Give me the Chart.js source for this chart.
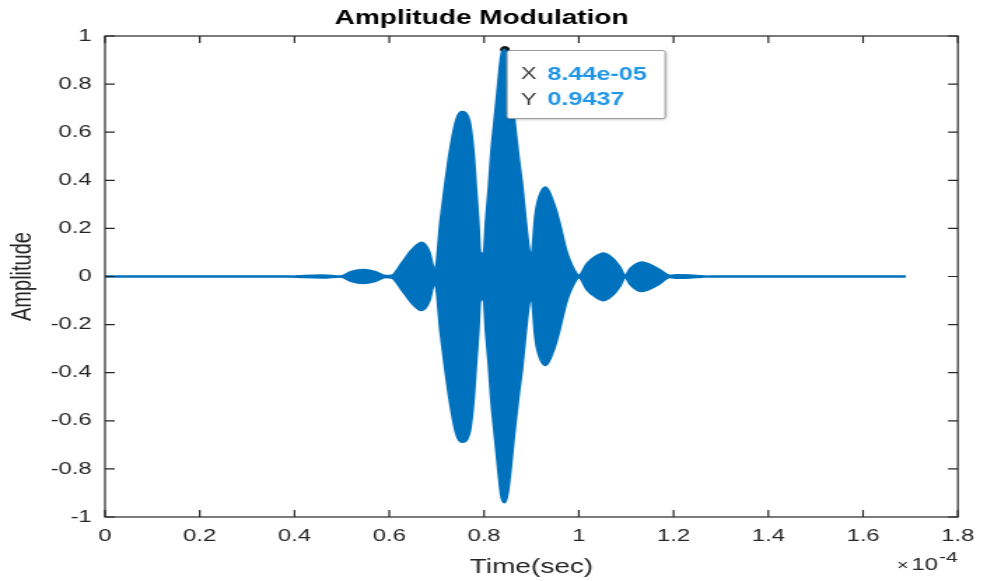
<!DOCTYPE html>
<html>
<head>
<meta charset="utf-8">
<title>Amplitude Modulation</title>
<script src="https://cdn.jsdelivr.net/npm/chart.js@4.4.1/dist/chart.umd.min.js"></script>
<style>
  html, body { margin: 0; padding: 0; background: #fff; overflow: hidden; }
  /* the source figure is stretched sideways, so the chart is drawn narrow and widened */
  #wrap { width: 705px; height: 581px; transform: scaleX(1.4); transform-origin: 0 0; }
</style>
</head>
<body>
<div id="wrap"><canvas id="amChart" width="705" height="581"></canvas></div>
<script>
/* ── Data (time in units of 1e-4 s, as on the axis) ── */
const envTime = [
  0, 0.39, 0.42, 0.46, 0.497, 0.52, 0.545, 0.57, 0.592, 0.605,
  0.626, 0.647, 0.668, 0.685, 0.692, 0.697, 0.708, 0.717, 0.727, 0.741,
  0.753, 0.769, 0.778, 0.783, 0.788, 0.792, 0.799, 0.804, 0.810, 0.815,
  0.822, 0.829, 0.837, 0.844, 0.850, 0.857, 0.864, 0.872, 0.881, 0.888,
  0.896, 0.899, 0.902, 0.907, 0.912, 0.930, 0.948, 0.958, 0.975, 0.996,
  1.0, 1.017, 1.035, 1.052, 1.073, 1.087, 1.098, 1.108, 1.122, 1.133,
  1.150, 1.171, 1.192, 1.21, 1.235, 1.26, 1.28, 1.69
];
const envUpper = [
  0, 0, 0.004, 0.006, 0.001, 0.02, 0.028, 0.02, 0.004, 0.005,
  0.055, 0.11, 0.142, 0.10, 0.045, 0.03, 0.233, 0.371, 0.511, 0.649,
  0.685, 0.649, 0.511, 0.371, 0.233, 0.10, 0.095, 0.233, 0.371, 0.511,
  0.649, 0.788, 0.926, 0.944, 0.90, 0.788, 0.649, 0.511, 0.371, 0.233,
  0.10, 0.09, 0.11, 0.233, 0.30, 0.371, 0.30, 0.233, 0.10, 0.01,
  0.005, 0.053, 0.083, 0.097, 0.073, 0.039, 0.005, 0.032, 0.053, 0.06,
  0.05, 0.028, 0.004, 0.007, 0.006, 0.002, 0, 0
];
const envLower = [
  0, 0, -0.004, -0.006, -0.001, -0.02, -0.028, -0.02, -0.004, -0.006,
  -0.055, -0.11, -0.141, -0.10, -0.045, -0.03, -0.233, -0.371, -0.511, -0.652,
  -0.689, -0.652, -0.511, -0.371, -0.233, -0.10, -0.095, -0.233, -0.371, -0.511,
  -0.649, -0.788, -0.92, -0.94, -0.90, -0.788, -0.649, -0.511, -0.371, -0.233,
  -0.10, -0.09, -0.11, -0.233, -0.30, -0.37, -0.30, -0.233, -0.10, -0.01,
  -0.005, -0.055, -0.085, -0.10, -0.075, -0.04, -0.005, -0.032, -0.055, -0.062,
  -0.052, -0.03, -0.004, -0.007, -0.006, -0.002, 0, 0
];
const tipTime = 0.844;
const tipAmp = 0.9437;
const tipText = ['8.44e-05', '0.9437'];
const xTicks = [0, 0.2, 0.4, 0.6, 0.8, 1, 1.2, 1.4, 1.6, 1.8];
const yTicks = [-1, -0.8, -0.6, -0.4, -0.2, 0, 0.2, 0.4, 0.6, 0.8, 1];

const FONT = "'Liberation Sans', Arial, sans-serif";
const BLUE = '#0072BD';
const INK = '#262626';
const TICK = 7;

/* ── MATLAB-style box, inward ticks, x10^-4 and the datatip ── */
const matlabAxes = {
  id: 'matlabAxes',
  afterDatasetsDraw(chart) {
    const { ctx, chartArea: a, scales: { x, y } } = chart;
    ctx.save();
    ctx.strokeStyle = INK;
    ctx.lineWidth = 1.2;
    ctx.beginPath();
    xTicks.forEach(v => {
      const px = x.getPixelForValue(v);
      ctx.moveTo(px, a.bottom); ctx.lineTo(px, a.bottom - TICK);
      ctx.moveTo(px, a.top); ctx.lineTo(px, a.top + TICK);
    });
    yTicks.forEach(v => {
      const py = y.getPixelForValue(v);
      ctx.moveTo(a.left, py); ctx.lineTo(a.left + TICK, py);
      ctx.moveTo(a.right, py); ctx.lineTo(a.right - TICK, py);
    });
    ctx.stroke();
    ctx.strokeRect(a.left, a.top, a.right - a.left, a.bottom - a.top);

    // exponent label under the right end of the x axis
    ctx.fillStyle = INK;
    ctx.textBaseline = 'middle';
    ctx.textAlign = 'right';
    ctx.font = `15px ${FONT}`;
    ctx.fillText('-4', a.right, 558);
    const expW = ctx.measureText('-4').width;
    ctx.font = `17px ${FONT}`;
    ctx.fillText('10', a.right - expW - 1, 565);
    const tenW = ctx.measureText('10').width;
    ctx.font = `14px ${FONT}`;
    ctx.fillText('\u00d7', a.right - expW - tenW - 3, 566);
    ctx.restore();
  },
  afterDraw(chart) {
    const { ctx, scales: { x, y } } = chart;
    const px = x.getPixelForValue(tipTime);
    const py = y.getPixelForValue(tipAmp);
    const bx = px + 1, by = py + 0.5, bw = 113, bh = 68;
    ctx.save();
    ctx.shadowColor = 'rgba(0,0,0,0.25)';
    ctx.shadowBlur = 3;
    ctx.shadowOffsetX = 1;
    ctx.shadowOffsetY = 1;
    ctx.fillStyle = '#fff';
    ctx.beginPath();
    ctx.roundRect(bx + 0.5, by + 0.5, bw, bh, 2);
    ctx.fill();
    ctx.shadowColor = 'transparent';
    ctx.strokeStyle = '#9a9a9a';
    ctx.lineWidth = 1;
    ctx.stroke();
    ctx.textBaseline = 'middle';
    ctx.textAlign = 'left';
    ['X', 'Y'].forEach((lab, i) => {
      const ty = by + 24.5 + i * 25.5;
      ctx.font = `17px ${FONT}`;
      ctx.fillStyle = '#404040';
      ctx.fillText(lab, bx + 10.3, ty);
      ctx.font = `bold 18px ${FONT}`;
      ctx.fillStyle = '#2196e6';
      ctx.fillText(tipText[i], bx + 29.3, ty);
    });
    ctx.restore();
  }
};

const toPts = (xs, ys) => xs.map((t, i) => ({ x: t, y: ys[i] }));

new Chart(document.getElementById('amChart'), {
  type: 'line',
  data: {
    datasets: [
      {
        data: toPts(envTime, envUpper),
        borderColor: BLUE,
        backgroundColor: BLUE,
        borderWidth: 1.8,
        pointRadius: 0,
        cubicInterpolationMode: 'monotone',
        fill: '+1',
      },
      {
        data: toPts(envTime, envLower),
        borderColor: BLUE,
        backgroundColor: BLUE,
        borderWidth: 1.8,
        pointRadius: 0,
        cubicInterpolationMode: 'monotone',
        fill: false,
      },
      {
        type: 'scatter',
        data: [{ x: tipTime, y: tipAmp }],
        pointRadius: 3,
        pointBackgroundColor: '#111',
        pointBorderColor: '#111',
      }
    ]
  },
  options: {
    responsive: false,
    animation: false,
    layout: { padding: { left: 0, right: 17, top: 0, bottom: 0 } },
    plugins: {
      legend: { display: false },
      tooltip: { enabled: false },
      title: {
        display: true,
        text: 'Amplitude Modulation',
        color: '#000',
        font: { family: FONT, size: 20, weight: 'bold', lineHeight: 1.2 },
        padding: { top: 6, bottom: 6 },
      },
    },
    scales: {
      x: {
        type: 'linear',
        min: 0, max: 1.8,
        afterBuildTicks: s => { s.ticks = xTicks.map(v => ({ value: v })); },
        afterFit: s => { s.height = 64; },
        grid: { display: false, drawTicks: false },
        border: { display: false },
        ticks: { color: INK, padding: 9, maxRotation: 0, autoSkip: false, font: { family: FONT, size: 17 }, callback: v => String(v) },
        title: { display: true, text: 'Time(sec)', color: INK, font: { family: FONT, size: 20, lineHeight: 1.2 }, padding: { top: 0, bottom: 2 } },
      },
      y: {
        min: -1, max: 1,
        afterBuildTicks: s => { s.ticks = yTicks.map(v => ({ value: v })); },
        afterFit: s => { s.width = 75; },
        grid: { display: false, drawTicks: false },
        border: { display: false },
        ticks: { color: INK, padding: 9.5, autoSkip: false, font: { family: FONT, size: 17 }, callback: v => String(v) },
        title: { display: true, text: 'Amplitude', color: INK, font: { family: FONT, size: 20, lineHeight: 1.2 }, padding: { top: 4.6, bottom: 0 } },
      }
    }
  },
  plugins: [matlabAxes]
});
</script>
</body>
</html>
